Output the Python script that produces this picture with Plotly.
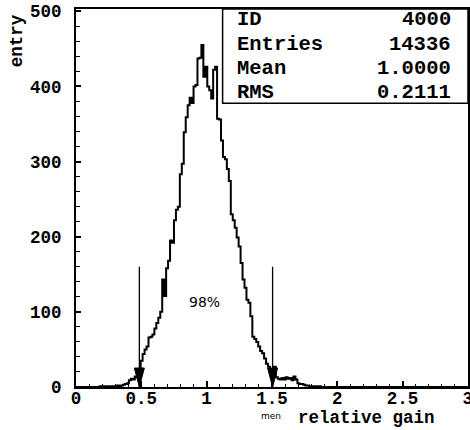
import numpy as np
import plotly.graph_objects as go

# ---- data ----
bin_width = 0.015
x_min, x_max = 0.0, 3.0
counts = ([0] * 12 +
          [1, 0, 1, 1, 0, 1, 0, 1, 1, 2, 1, 2, 3, 4, 5, 9, 11, 10, 14, 13,
           22, 35, 44, 50, 54, 66, 67, 70, 78, 85, 92, 100, 143, 121, 158, 168,
           195, 192, 222, 236, 240, 283, 297, 339, 359, 375, 385, 378, 400, 402,
           437, 438, 455, 413, 426, 400, 395, 384, 422, 426, 357, 356, 328, 306,
           303, 290, 274, 230, 222, 212, 199, 187, 165, 143, 132, 116, 112, 94,
           67, 64, 60, 54, 48, 45, 38, 31, 27, 22, 18, 27, 13, 11, 10, 12, 10,
           13, 11, 12, 9, 14, 10, 5, 4, 4, 3, 2, 2, 1, 1, 1, 1, 0, 1])
counts = counts + [0] * (200 - len(counts))

stats_labels = ["ID", "Entries", "Mean", "RMS"]
stats_values = ["4000", "14336", "1.0000", "0.2111"]

interval_lo = 0.485
interval_hi = 1.505
arrow_top = 160
interval_text = "98%"
text_pos = (0.985, 113)

x_title = "relative gain"
x_title_small = "men"
y_title = "entry"

# ---- figure ----
edges = x_min + bin_width * np.arange(len(counts) + 1)
yvals = list(counts) + [counts[-1]]

MONO = "Liberation Mono, Courier New, monospace"
fig = go.Figure()
fig.add_trace(go.Scatter(x=edges, y=yvals, mode="lines",
                         line=dict(color="black", width=2, shape="hv"),
                         hoverinfo="skip"))

shapes = []
for xv in (interval_lo, interval_hi):
    shapes.append(dict(type="line", xref="x", yref="y", x0=xv, x1=xv, y0=0, y1=arrow_top,
                       line=dict(color="black", width=1.3)))
    shapes.append(dict(type="path", xref="x", yref="y", xsizemode="pixel", ysizemode="pixel",
                       xanchor=xv, yanchor=0, path="M-5,19 L5,19 L0,0 Z",
                       fillcolor="black", line=dict(color="black", width=1)))
# stats box
shapes.append(dict(type="rect", xref="paper", yref="paper", x0=0.374, x1=1.0, y0=0.7505, y1=1.0,
                   line=dict(color="black", width=1.5), fillcolor="white", layer="above"))

annotations = []
row_y = [0.971, 0.906, 0.843, 0.779]
for lab, val, yy in zip(stats_labels, stats_values, row_y):
    annotations.append(dict(xref="paper", yref="paper", x=0.4056, y=yy, text=lab, showarrow=False,
                            xanchor="left", yanchor="middle",
                            font=dict(family=MONO, size=20.5, color="black", weight="bold")))
    annotations.append(dict(xref="paper", yref="paper", x=0.962, y=yy, text=val, showarrow=False,
                            xanchor="right", yanchor="middle",
                            font=dict(family=MONO, size=20.5, color="black", weight="bold")))

annotations.append(dict(xref="x", yref="y", x=text_pos[0], y=text_pos[1], text=interval_text,
                        showarrow=False, font=dict(family="DejaVu Sans", size=14, color="black")))
annotations.append(dict(xref="paper", yref="paper", x=-0.1505, y=0.915, text=y_title, textangle=-90,
                        showarrow=False, xanchor="center", yanchor="middle",
                        font=dict(family=MONO, size=17.5, color="black", weight="bold")))
annotations.append(dict(xref="paper", yref="paper", x=0.740, y=-0.082, text=x_title,
                        showarrow=False, xanchor="center", yanchor="middle",
                        font=dict(family=MONO, size=17.5, color="black", weight="bold")))
annotations.append(dict(xref="paper", yref="paper", x=0.4987, y=-0.078, text=x_title_small,
                        showarrow=False, xanchor="center", yanchor="middle",
                        font=dict(family="DejaVu Sans", size=9, color="black")))

fig.update_layout(
    width=470, height=430,
    margin=dict(l=76, r=2, t=9, b=43),
    plot_bgcolor="white", paper_bgcolor="white",
    showlegend=False,
    shapes=shapes, annotations=annotations,
    xaxis=dict(range=[x_min, x_max + 0.001], showline=True, linecolor="black", linewidth=2, mirror=True,
               ticks="inside", ticklen=6, tickwidth=1.5, tickcolor="black",
               tick0=0, dtick=0.5, showgrid=False, zeroline=False, automargin=False,
               minor=dict(ticks="inside", dtick=0.1, ticklen=3.5, tickcolor="black", tickwidth=1),
               tickfont=dict(family=MONO, size=17.5, color="black", weight="bold"),
               ticklabelstandoff=-6, ticklabeloverflow="allow"),
    yaxis=dict(range=[0, 503], showline=True, linecolor="black", linewidth=2, mirror=True,
               ticks="inside", ticklen=5, tickwidth=1.5, tickcolor="black",
               tick0=0, dtick=100, showgrid=False, zeroline=False, automargin=False,
               minor=dict(ticks="inside", dtick=20, ticklen=4, tickcolor="black", tickwidth=1),
               tickfont=dict(family=MONO, size=17.5, color="black", weight="bold"),
               ticklabelstandoff=9),
)

fig.write_html("out.html")
